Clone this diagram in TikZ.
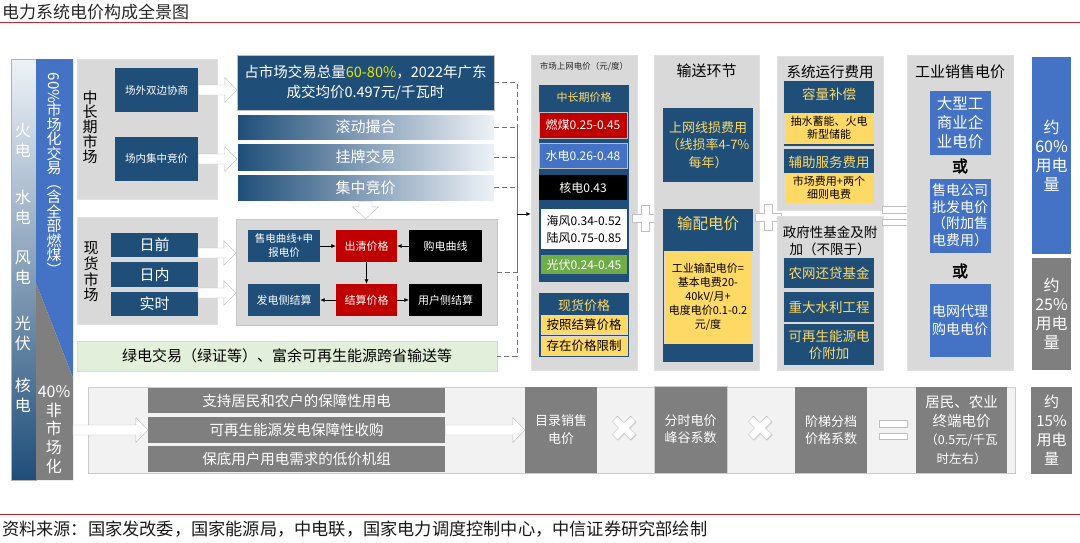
\documentclass[tikz,border=0pt]{standalone}
\usepackage{fontspec}
\setmainfont{Noto Sans CJK SC}
\newfontfamily\boldcjk{Noto Sans CJK SC}[FakeBold=2]
\usetikzlibrary{shadows,arrows.meta,calc}
\definecolor{navy}{HTML}{1F4E79}
\definecolor{gold}{HTML}{FFD966}
\definecolor{ylw}{HTML}{FFD966}
\definecolor{pgrey}{HTML}{D9D9D9}
\definecolor{dgrey}{HTML}{7F7F7F}
\definecolor{mblue}{HTML}{4472C4}
\definecolor{dred}{HTML}{C00000}
\definecolor{lgreen}{HTML}{E2EFDA}
\definecolor{vgreen}{HTML}{70AD47}
\definecolor{titred}{HTML}{C8282D}
\definecolor{gfade}{HTML}{EEF2F8}
\definecolor{hl}{HTML}{E8E800}
\newcommand\fsz[2]{\fontsize{#1}{#2}\selectfont}
\newcommand\mkbox[7]{%
 \pgfmathsetmacro\mbcx{(#3+#5)/2}%
 \pgfmathsetmacro\mbcy{(#4+#6)/2}%
 \pgfmathsetmacro\mbw{#5-#3}%
 \pgfmathsetmacro\mbh{#6-#4}%
 \node[inner sep=0pt, align=center, minimum width=\mbw pt, minimum height=\mbh pt, #2] (#1) at (\mbcx,\mbcy) {#7};}
\newcommand\harr[2]{%
 \path[fill=white, draw=black!25, line width=0.4pt] let \p1=#1, \p2=#2 in
  (\x1,\y1+5pt) -- (\x2-12pt,\y1+5pt) -- (\x2-12pt,\y1+12.5pt) -- (\x2,\y1) -- (\x2-12pt,\y1-12.5pt) -- (\x2-12pt,\y1-5pt) -- (\x1,\y1-5pt) -- cycle;}
\newcommand\varr[2]{%
 \path[fill=white, draw=black!25, line width=0.4pt] let \p1=#1, \p2=#2 in
  (\x1-6.5pt,\y1) -- (\x1-6.5pt,\y2+12pt) -- (\x1-13pt,\y2+12pt) -- (\x1,\y2) -- (\x1+13pt,\y2+12pt) -- (\x1+6.5pt,\y2+12pt) -- (\x1+6.5pt,\y1) -- cycle;}
\newcommand\plussign[3]{%
 \begin{scope}[shift={(#1,#2)}, rotate=#3]
 \path[sym] (-13,-3.8) -- (-3.8,-3.8) -- (-3.8,-13) -- (3.8,-13) -- (3.8,-3.8) -- (13,-3.8) -- (13,3.8) -- (3.8,3.8) -- (3.8,13) -- (-3.8,13) -- (-3.8,3.8) -- (-13,3.8) -- cycle;
 \end{scope}}
\newcommand\eqsign[2]{%
 \begin{scope}[shift={(#1,#2)}]
 \path[sym] (-14,-9.5) rectangle (14,-3);
 \path[sym] (-14,3) rectangle (14,9.5);
 \end{scope}}
\begin{document}
\begin{tikzpicture}[x=1pt,y=-1pt,
 panel/.style={fill=pgrey, draw=black!12, line width=0.4pt, drop shadow={shadow xshift=1.2pt,shadow yshift=-1.2pt,opacity=0.3}},
 nb/.style={fill=navy, text=white},
 wt/.style={text=white, align=center, inner sep=0pt},
 gt/.style={text=gold, align=center, inner sep=0pt},
 bt/.style={text=black, align=center, inner sep=0pt},
 gbox/.style={left color=navy, right color=gfade, text=white, draw=white, line width=0.5pt, font=\fsz{15}{18}},
 sarr/.style={-{Latex[length=4.5pt,width=4pt]}, line width=0.6pt, black},
 dashl/.style={draw=black!55, dash pattern=on 5pt off 3pt, line width=0.8pt},
 sym/.style={fill=white, draw=black!25, line width=0.5pt, drop shadow={shadow xshift=0.8pt,shadow yshift=-0.8pt,opacity=0.25}},
 yb/.style={fill=ylw, text=black, draw=black!15, line width=0.3pt},
]
\useasboundingbox (0,0) rectangle (1080,542);
\fill[white] (0,0) rectangle (1080,542);

% title and footer
\node[anchor=west, inner sep=0pt, font=\fsz{17}{20}, text=black!85] (title) at (2,12) {电力系统电价构成全景图};
\draw[titred, line width=1pt] (0,22.5) -- (1080,22.5);
\draw[titred, line width=0.8pt] (0,514) -- (1080,514);
\node[anchor=west, inner sep=0pt, font=\fsz{17.2}{20}, text=black!90] (src) at (2,529) {资料来源：国家发改委，国家能源局，中电联，国家电力调度控制中心，中信证券研究部绘制};

% left column
\mkbox{grad}{top color=gfade, bottom color=navy, draw=black!30, line width=0.3pt}{11}{59}{36}{480}{}
\fill[mblue] (36,59) -- (73,59) -- (73,378) -- (36,283) -- cycle;
\fill[dgrey] (36,283) -- (73,378) -- (73,480) -- (36,480) -- cycle;
\node[wt, font=\fsz{16}{20}] (e1) at (23,140) {火\\电};
\node[wt, font=\fsz{16}{20}] (e2) at (23,207) {水\\电};
\node[wt, font=\fsz{16}{20}] (e3) at (23,268) {风\\电};
\node[wt, font=\fsz{16}{20}] (e4) at (23,333) {光\\伏};
\node[wt, font=\fsz{16}{20}] (e5) at (23,395) {核\\电};
\node[wt, font=\fsz{15}{15}, rotate=-90] (p60) at (54,88) {60\%};
\node[wt, font=\fsz{15}{14.5}] (mk60) at (54,189) {市\\场\\化\\交\\易\\︵\\含\\全\\部\\燃\\煤\\︶};
\node[wt, font=\fsz{16}{18.7}] (n40) at (54,429.5) {40\%\\非\\市\\场\\化};

% medium/long term market
\mkbox{zcq}{panel}{77}{59}{217}{199}{}
\node[bt, font=\fsz{15}{14.8}] (zcqt) at (90,127) {中\\长\\期\\市\\场};
\mkbox{cw}{nb, font=\fsz{10.5}{13}}{115}{68}{198}{112}{场外双边协商}
\mkbox{cn}{nb, font=\fsz{10.5}{13}}{115}{137}{198}{181}{场内集中竞价}

% spot market
\mkbox{xh}{panel}{77}{217}{217}{324}{}
\node[bt, font=\fsz{15}{15.6}] (xht) at (91,272) {现\\货\\市\\场};
\mkbox{rq}{nb, font=\fsz{15}{18}}{111}{233}{198}{257}{日前}
\mkbox{rn}{nb, font=\fsz{15}{18}}{111}{262}{198}{287}{日内}
\mkbox{ss}{nb, font=\fsz{15}{18}}{111}{292}{198}{316}{实时}

% green bar
\mkbox{green}{fill=lgreen, draw=black!15, line width=0.4pt, font=\fsz{15}{18}, drop shadow={shadow xshift=1.2pt,shadow yshift=-1.2pt,opacity=0.25}}{77}{341}{497}{371}{绿电交易（绿证等）、富余可再生能源跨省输送等}

% middle block
\mkbox{zs}{nb, draw=black!25, line width=0.4pt, font=\fsz{14.5}{20}}{237}{55}{494}{110}{占市场交易总量\textcolor{hl}{60-80\%}，2022年广东\\成交均价0.497元/千瓦时}
\mkbox{gd}{gbox}{237}{114}{494}{140}{滚动撮合}
\mkbox{gp}{gbox}{237}{143}{494}{171}{挂牌交易}
\mkbox{jz}{gbox}{237}{174}{494}{201}{集中竞价}

\mkbox{spot}{panel, draw=black!22}{236}{219}{497}{325}{}
\mkbox{sd}{nb, font=\fsz{10.5}{14}}{248}{230}{320}{262}{售电曲线+申\\报电价}
\mkbox{cq}{fill=dred, text=white, font=\fsz{11}{13}}{336}{230}{397}{262}{出清价格}
\mkbox{gdq}{fill=black, text=white, font=\fsz{11}{13}}{409}{230}{482}{262}{购电曲线}
\mkbox{fd}{nb, font=\fsz{11}{13}}{248}{284}{320}{316}{发电侧结算}
\mkbox{js}{fill=dred, text=white, font=\fsz{11}{13}}{336}{284}{397}{316}{结算价格}
\mkbox{yh}{fill=black, text=white, font=\fsz{11}{13}}{409}{284}{482}{316}{用户侧结算}
\draw[sarr] (sd.east) -- (cq.west);
\draw[sarr] (gdq.west) -- (cq.east);
\draw[sarr] (cq.south) -- (js.north);
\draw[sarr] (js.west) -- (fd.east);
\draw[sarr] (js.east) -- (yh.west);

% block arrows
\coordinate (a1) at (198,253);
\coordinate (a2) at (198,293);
\coordinate (a3) at (73,430);
\harr{(cw.east)}{(zs.west |- cw.east)}
\harr{(cn.east)}{(gp.west |- cn.east)}
\harr{(a1)}{(spot.west |- a1)}
\harr{(a2)}{(spot.west |- a2)}
\varr{(jz.south)}{(spot.north -| jz.south)}

% market price panel
\mkbox{mkt}{panel}{531}{55}{637}{370}{}
\node[bt, font=\fsz{8.5}{10}, text=black!85] (mktt) at (584,67) {市场上网电价（元/度）};
\mkbox{zcj}{nb}{539}{85}{629}{282}{}
\node[gt, font=\fsz{11}{13}] (zcjt) at (584,97) {中长期价格};
\mkbox{rm}{fill=dred, text=white, draw=black!25, line width=0.3pt, font=\fsz{12}{14}}{539}{112}{627}{138}{燃煤0.25-0.45}
\mkbox{sdp}{fill=mblue, text=white, draw=black!25, line width=0.3pt, font=\fsz{12}{14}}{539}{143}{627}{168}{水电0.26-0.48}
\mkbox{hd}{fill=black, text=white, font=\fsz{12}{14}}{539}{175}{627}{200}{核电0.43}
\mkbox{fd2}{fill=white, text=black, font=\fsz{12}{17}}{541}{209}{627}{249}{海风0.34-0.52\\陆风0.75-0.85}
\mkbox{gf}{fill=vgreen, text=white, font=\fsz{12}{14}}{541}{255}{627}{274}{光伏0.24-0.45}
\mkbox{xhj}{nb}{539}{293}{629}{357}{}
\node[gt, font=\fsz{13}{15}] (xhjt) at (584,306) {现货价格};
\mkbox{aj}{yb, font=\fsz{12.5}{14}}{541}{315}{627}{334}{按照结算价格}
\mkbox{cz}{yb, font=\fsz{12.5}{14}}{541}{336}{627}{355}{存在价格限制}

% dashed bus
\coordinate (dtop) at (517,83);
\coordinate (arrS) at (517,214);
\draw[dashl] (zs.east) -- (zs.east -| dtop) -- (green.east -| dtop) -- (green.east);
\draw[dashl] (gd.east) -- (gd.east -| dtop);
\draw[dashl] (gp.east) -- (gp.east -| dtop);
\draw[dashl] (jz.east) -- (jz.east -| dtop);
\draw[dashl] (spot.east) -- (spot.east -| dtop);
\draw[black!55, line width=0.7pt] (gd.east -| dtop) -- (spot.east -| dtop);
\draw[sarr, line width=0.8pt] (arrS) -- (mkt.west |- arrS);

% transmission
\plussign{645}{218}{0}
\mkbox{tr}{panel}{654}{55}{759}{370}{}
\node[bt, font=\fsz{15}{18}] (trt) at (706.5,71) {输送环节};
\mkbox{xs}{nb, text=gold, font=\fsz{13}{17.5}}{663}{108}{753}{182}{上网线损费用\\（线损率4-7\%\\每年）}
\mkbox{sp}{nb}{663}{209}{753}{362}{}
\node[gt, font=\fsz{15.5}{18}] (spt) at (708,224) {输配电价};
\mkbox{spy}{yb, font=\fsz{11}{14}}{664}{251}{752}{343}{工业输配电价=\\基本电费20-\\40kV/月+\\电度电价0.1-0.2\\元/度}

% system operation
\plussign{768}{217}{0}
\mkbox{xt}{panel}{777}{56}{883}{210}{}
\node[bt, font=\fsz{14.5}{17}] (xtt) at (830,72) {系统运行费用};
\mkbox{rl}{nb}{784}{81}{874}{146}{}
\node[gt, font=\fsz{13.5}{16}] (rlt) at (829,94) {容量补偿};
\mkbox{rly}{yb, font=\fsz{11}{12.5}}{784}{113}{874}{143}{抽水蓄能、火电\\新型储能}
\mkbox{fz}{nb}{784}{149}{874}{203}{}
\node[gt, font=\fsz{13.5}{16}] (fzt) at (829,162) {辅助服务费用};
\mkbox{fzy}{yb, font=\fsz{11}{12.5}}{784}{173}{874}{203}{市场费用+两个\\细则电费}

\mkbox{zf}{panel}{777}{216}{883}{370}{}
\node[bt, font=\fsz{13.5}{17}] (zft) at (830,240.5) {政府性基金及附\\加（不限于）};
\mkbox{nw}{nb, text=gold, font=\fsz{13.5}{16}}{784}{258}{874}{288}{农网还贷基金}
\mkbox{zd}{nb, text=gold, font=\fsz{13.5}{16}}{784}{292}{874}{322}{重大水利工程}
\mkbox{kz}{nb, text=gold, font=\fsz{13.5}{17}}{784}{324}{874}{365}{可再生能源电\\价附加}

% industrial price
\eqsign{896}{216}
\mkbox{gy}{panel}{907}{55}{1013}{370}{}
\node[bt, font=\fsz{15}{18}] (gyt) at (960,72) {工业销售电价};
\mkbox{dx}{fill=mblue, text=white, draw=black!15, line width=0.3pt, font=\fsz{15.5}{19}}{929}{90}{991}{155}{大型工\\商业企\\业电价}
\node[bt, font=\fsz{16}{18}\boldcjk] (or1) at (960,166) {或};
\mkbox{sdgs}{fill=mblue, text=white, draw=black!15, line width=0.3pt, font=\fsz{14}{16.5}}{929}{178}{991}{253}{售电公司\\批发电价\\（附加售\\电费用）}
\node[bt, font=\fsz{16}{18}\boldcjk] (or2) at (960,271) {或};
\mkbox{dwdl}{fill=mblue, text=white, draw=black!15, line width=0.3pt, font=\fsz{14}{18}}{929}{283}{991}{357}{电网代理\\购电电价}

% right column
\mkbox{r60}{fill=mblue, text=white, font=\fsz{16}{19}}{1032}{57}{1071}{254}{约\\60\%\\用电\\量}
\mkbox{r25}{fill=dgrey, text=white, font=\fsz{16}{19}}{1032}{258}{1071}{370}{约\\25\%\\用电\\量}

% bottom row
\mkbox{bp}{fill=black!5, draw=black!20, line width=0.4pt, drop shadow={shadow xshift=1.2pt,shadow yshift=-1.2pt,opacity=0.25}}{88}{387}{1015}{473}{}
\mkbox{b1}{fill=dgrey, text=white, font=\fsz{14.5}{17}}{148}{388}{445}{413}{支持居民和农户的保障性用电}
\mkbox{b2}{fill=dgrey, text=white, font=\fsz{14.5}{17}}{148}{417}{445}{443}{可再生能源发电保障性收购}
\mkbox{b3}{fill=dgrey, text=white, font=\fsz{14.5}{17}}{148}{446}{445}{472}{保底用户用电需求的低价机组}
\mkbox{ml}{fill=dgrey, text=white, font=\fsz{13}{18}}{525}{387}{597}{473}{目录销售\\电价}
\mkbox{fs}{fill=dgrey, text=white, draw=black!20, line width=0.4pt, font=\fsz{13}{17}}{654}{386}{727}{473}{分时电价\\峰谷系数}
\mkbox{jt}{fill=dgrey, text=white, font=\fsz{13}{17}}{795}{387}{867}{473}{阶梯分档\\价格系数}
\mkbox{jm}{fill=dgrey, text=white, font=\fsz{14.5}{18.5}}{916}{387}{1007}{473}{居民、农业\\终端电价\\{\fsz{12.5}{18.5}（0.5元/千瓦}\\{\fsz{12.5}{18.5}时左右）}}
\mkbox{r15}{fill=dgrey, text=white, font=\fsz{15}{19}}{1031}{387}{1072}{474}{约\\15\%\\用电\\量}
\harr{(a3)}{(b2.west |- a3)}
\harr{(b2.east)}{(ml.west |- b2.east)}
\plussign{624}{428}{45}
\plussign{760}{428}{45}
\eqsign{893}{430}
\end{tikzpicture}
\end{document}
